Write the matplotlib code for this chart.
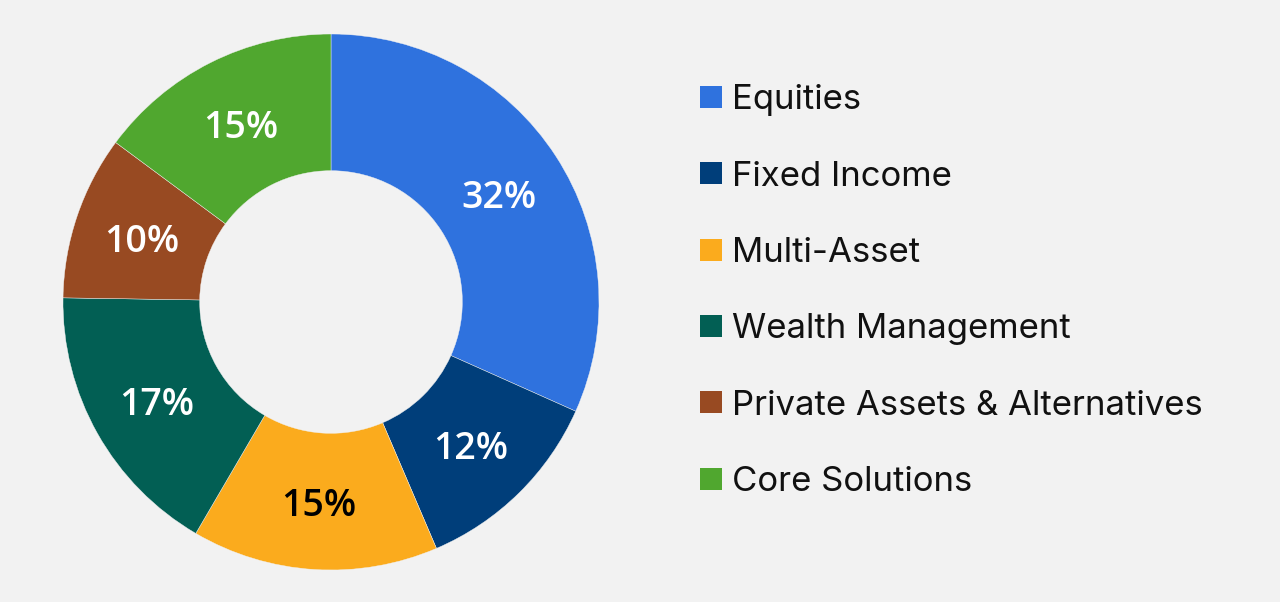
import matplotlib
matplotlib.use("Agg")
from matplotlib import pyplot as plt
from matplotlib.patches import Rectangle

categories = ["Equities", "Fixed Income", "Multi-Asset", "Wealth Management",
              "Private Assets & Alternatives", "Core Solutions"]
shares = [32, 12, 15, 17, 10, 15]
colors = ["#2F72DE", "#003E7A", "#FBAB1D", "#025F54", "#984A22", "#50A72F"]
label_colors = ["white", "white", "black", "white", "white", "white"]

BG = "#F2F2F2"


def main():
	fig = plt.figure(figsize=(12.8, 6.02), dpi=100, facecolor=BG)

	# donut: centre at (331, 302) px from top-left, radius 268 px
	cx, cy, r = 331, 602 - 302, 268
	ax = fig.add_axes([(cx - r) / 1280, (cy - r) / 602, 2 * r / 1280, 2 * r / 602])
	ax.set_facecolor(BG)
	wedges, texts, autotexts = ax.pie(
		shares, colors=colors, startangle=90, counterclock=False,
		autopct=lambda p: f"{p * sum(shares) / 100:.0f}%", pctdistance=0.745,
		wedgeprops=dict(width=0.51, edgecolor=BG, linewidth=0.3),
		textprops=dict(fontsize=27, family="Open Sans", weight="semibold"))
	for t, c in zip(autotexts, label_colors):
		t.set_color(c)
		t.set_va("center_baseline")
	ax.set_xlim(-1, 1)
	ax.set_ylim(-1, 1)
	ax.axis("off")

	# legend, drawn by hand to match spacing
	top = 97
	step = 76.3
	for i, (name, col) in enumerate(zip(categories, colors)):
		y = 602 - (top + i * step)
		fig.patches.append(Rectangle((700 / 1280, (y - 11) / 602), 22 / 1280, 22 / 602,
			transform=fig.transFigure, facecolor=col, edgecolor="none"))
		fig.text(732 / 1280, y / 602, name, ha="left", va="center_baseline",
			fontsize=25, family="Inter", color="#111111")

	fig.savefig("out.png", dpi=100, facecolor=BG)
	plt.close(fig)


if __name__ == "__main__":
	main()
